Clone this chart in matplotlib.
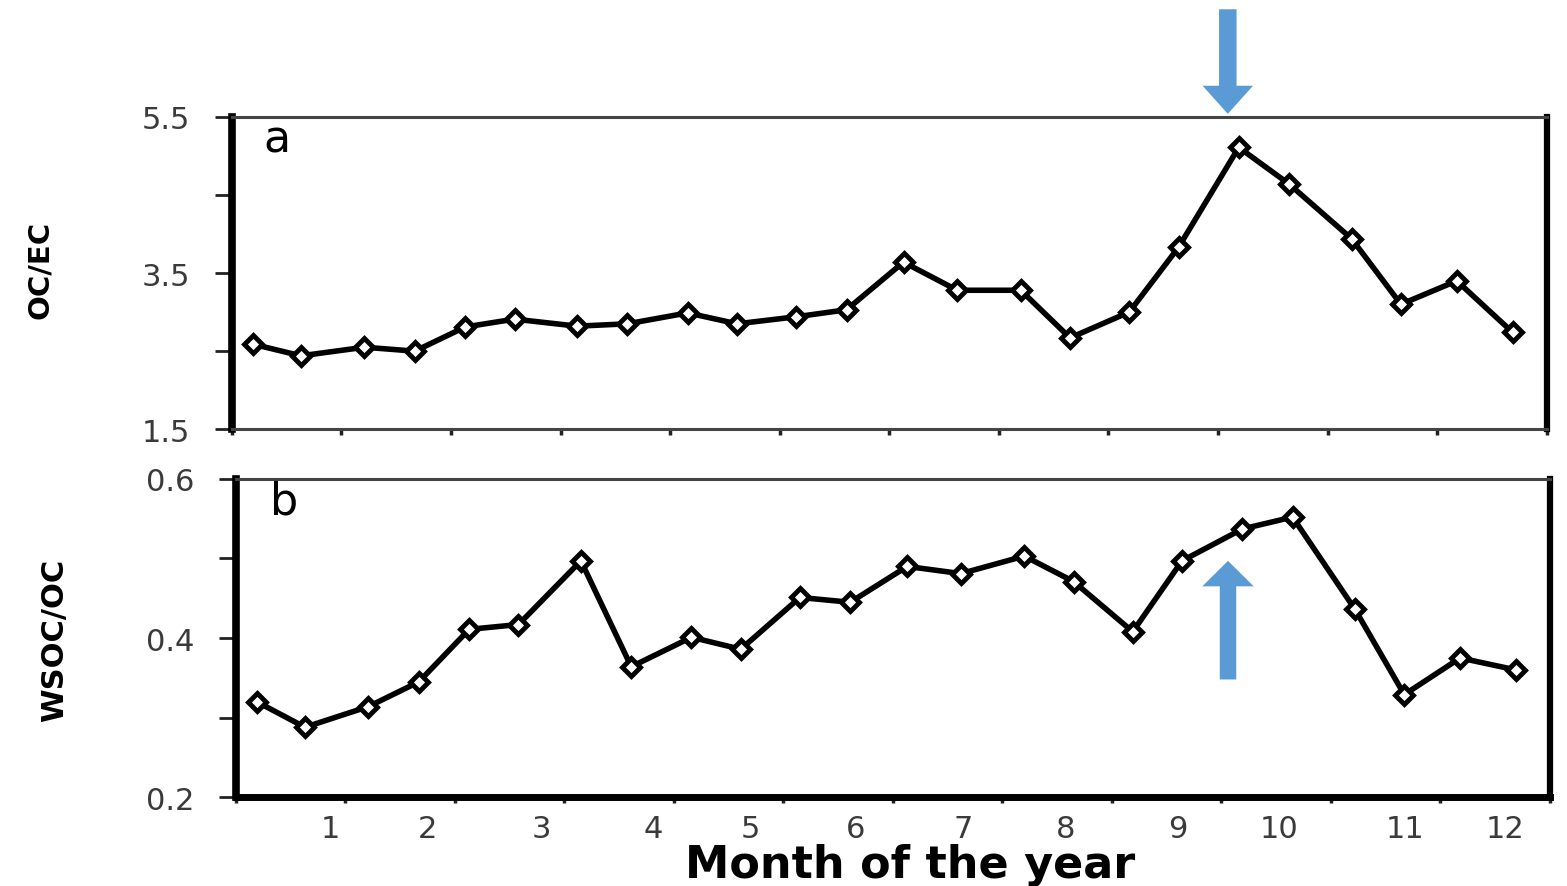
import matplotlib
matplotlib.use("Agg")
import matplotlib.pyplot as plt
from matplotlib.patches import FancyArrow

# semi-monthly sampling positions (month units from start of year)
sample_pos = [0.19, 0.63, 1.21, 1.67, 2.13, 2.58, 3.15, 3.61, 4.16, 4.61, 5.15, 5.61,
              6.13, 6.62, 7.20, 7.65, 8.19, 8.64, 9.19, 9.65, 10.22, 10.67, 11.18, 11.69]

oc_ec = [2.59, 2.44, 2.55, 2.50, 2.81, 2.91, 2.82, 2.85, 2.99, 2.85, 2.94, 3.03,
         3.64, 3.28, 3.28, 2.67, 3.00, 3.83, 5.11, 4.64, 3.94, 3.10, 3.40, 2.74]

wsoc_oc = [0.320, 0.288, 0.314, 0.345, 0.411, 0.417, 0.497, 0.364, 0.401, 0.386, 0.451, 0.445,
           0.490, 0.481, 0.503, 0.471, 0.408, 0.497, 0.537, 0.552, 0.436, 0.329, 0.375, 0.360]

month_labels = ["1", "2", "3", "4", "5", "6", "7", "8", "9", "10", "11", "12"]
month_label_pos = [0.86, 1.75, 2.79, 3.81, 4.70, 5.66, 6.64, 7.58, 8.60, 9.53, 10.68, 11.59]

ARROW_BLUE = "#5b9bd5"
TICK_GRAY = "#3a3a3a"
NARROW = ["Liberation Sans Narrow", "DejaVu Sans"]


def style_axes(ax, ylim, yticks, yminor, thick_bottom):
    ax.set_xlim(0, 12)
    ax.set_ylim(*ylim)
    ax.set_yticks(yticks)
    ax.set_yticks(yminor, minor=True)
    ax.tick_params(axis="y", which="both", direction="out", length=12, width=2,
                   pad=18, labelsize=22, labelcolor=TICK_GRAY, color="#222222")
    ax.set_xticks(range(0, 13))
    ax.tick_params(axis="x", which="major", direction="out", length=4, width=2.5,
                   labelbottom=False, color="#222222")
    ax.spines["left"].set_linewidth(5.5)
    ax.spines["right"].set_linewidth(4.5)
    ax.spines["top"].set_linewidth(2.2)
    ax.spines["top"].set_color("#444444")
    ax.spines["bottom"].set_linewidth(5 if thick_bottom else 2.2)
    if not thick_bottom:
        ax.spines["bottom"].set_color("#444444")


fig = plt.figure(figsize=(15.67, 8.87), dpi=100)
ax_a = fig.add_axes([0.148, 0.515, 0.839, 0.352])
ax_b = fig.add_axes([0.1506, 0.100, 0.8385, 0.359])

line_kw = dict(color="black", lw=4, marker="D", markersize=9,
               markerfacecolor="white", markeredgecolor="black", markeredgewidth=3.5)

# panel a: OC/EC
ax_a.plot(sample_pos, oc_ec, **line_kw)
style_axes(ax_a, (1.5, 5.5), [1.5, 3.5, 5.5], [2.5, 4.5], thick_bottom=False)
ax_a.text(0.024, 0.888, "a", transform=ax_a.transAxes, fontsize=32,
          family="DejaVu Sans", va="baseline")

# panel b: WSOC/OC
ax_b.plot(sample_pos, wsoc_oc, **line_kw)
style_axes(ax_b, (0.2, 0.6), [0.2, 0.4, 0.6], [0.3, 0.5], thick_bottom=True)
ax_b.set_xticks(month_label_pos, month_labels, minor=True)
ax_b.tick_params(axis="x", which="minor", length=0, pad=12, labelsize=22,
                 labelcolor=TICK_GRAY)
ax_b.text(0.026, 0.89, "b", transform=ax_b.transAxes, fontsize=32,
          family="DejaVu Sans", va="baseline")

# highlight arrows around the autumn peak
top_arrow = FancyArrow(9.09, 6.88, 0, -(6.88 - 5.54), width=0.16, head_width=0.46,
                       head_length=0.36, length_includes_head=True,
                       color=ARROW_BLUE, clip_on=False, lw=0)
ax_a.add_patch(top_arrow)
bottom_arrow = FancyArrow(9.06, 0.348, 0, 0.497 - 0.348, width=0.15, head_width=0.47,
                          head_length=0.032, length_includes_head=True,
                          color=ARROW_BLUE, clip_on=False, lw=0)
ax_b.add_patch(bottom_arrow)

fig.text(40 / 1567, 1 - 270 / 887, "OC/EC", rotation=90, ha="center", va="center",
         fontsize=21, fontweight="bold", family=NARROW)
fig.text(55 / 1567, 1 - 640 / 887, "WSOC/OC", rotation=90, ha="center", va="center",
         fontsize=22, fontweight="bold", family=NARROW)
fig.text(910 / 1567, 1 - 866 / 887, "Month of the year", ha="center", va="center",
         fontsize=32, fontweight="bold", family="DejaVu Sans")

fig.savefig("out.png", dpi=100)
